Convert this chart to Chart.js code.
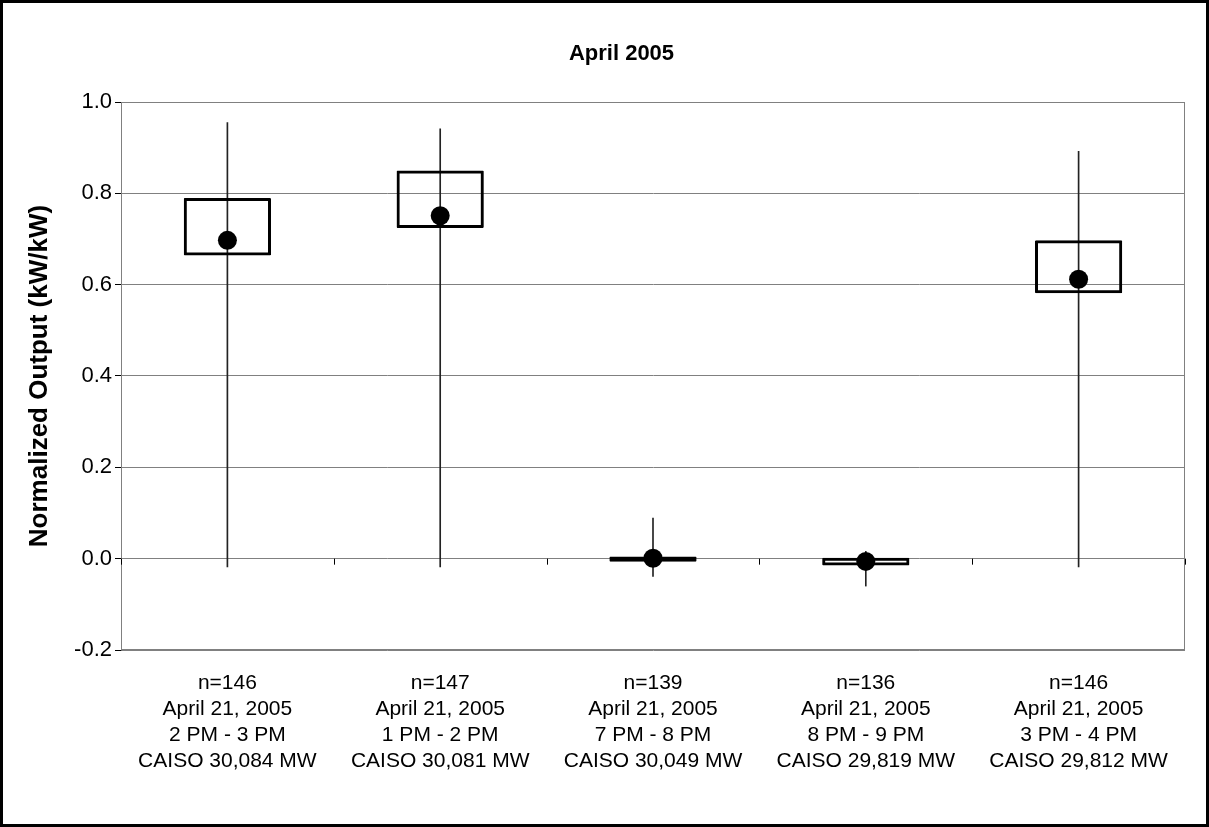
<!DOCTYPE html>
<html>
<head>
<meta charset="utf-8">
<title>April 2005</title>
<script src="https://cdn.jsdelivr.net/npm/chart.js@4.4.1/dist/chart.umd.min.js"></script>
<style>
  html, body { margin: 0; padding: 0; background: #fff; }
  canvas { display: block; }
</style>
</head>
<body>
<canvas id="chart" width="1209" height="827"></canvas>
<script>
// category text
const sampleSizes = [146, 147, 139, 136, 146];
const dates = ["April 21, 2005", "April 21, 2005", "April 21, 2005", "April 21, 2005", "April 21, 2005"];
const hours = ["2 PM - 3 PM", "1 PM - 2 PM", "7 PM - 8 PM", "8 PM - 9 PM", "3 PM - 4 PM"];
const caisoLoads = ["30,084", "30,081", "30,049", "29,819", "29,812"];

// values (kW/kW)
const whiskerLow = [-0.018, -0.018, -0.039, -0.060, -0.018];
const whiskerHigh = [0.955, 0.941, 0.089, 0.016, 0.892];
const boxLow = [0.664, 0.724, -0.007, -0.015, 0.581];
const boxHigh = [0.790, 0.850, 0.005, 0.002, 0.697];
const centers = [0.697, 0.751, 0.001, -0.006, 0.612];

const yTicks = [-0.2, 0.0, 0.2, 0.4, 0.6, 0.8, 1.0];

const labels = sampleSizes.map((n, i) => [
  "n=" + n,
  dates[i],
  hours[i],
  "CAISO " + caisoLoads[i] + " MW",
]);

const FONT = "Arial, 'Liberation Sans'";

// plot frame, ticks on the zero line, outer border
const framePlugin = {
  id: "frame",
  afterLayout(chart) {
    // title sits a bit right of the canvas centre in the original
    if (chart.titleBlock) {
      chart.titleBlock.left += 29;
      chart.titleBlock.right += 29;
    }
  },
  beforeDatasetsDraw(chart) {
    const { ctx, chartArea, scales } = chart;
    const x = scales.x;
    const y0 = scales.y.getPixelForValue(0);
    ctx.save();
    ctx.strokeStyle = "#808080";
    ctx.lineWidth = 1;
    ctx.strokeRect(chartArea.left + 0.5, chartArea.top + 0.5, chartArea.width - 1, chartArea.height - 1);
    ctx.strokeStyle = "#000";
    const step = x.width / labels.length;
    for (let i = 0; i <= labels.length; i++) {
      const px = Math.round(x.left + i * step) + 0.5;
      ctx.beginPath();
      ctx.moveTo(px, y0);
      ctx.lineTo(px, y0 + 6);
      ctx.stroke();
    }
    ctx.restore();
  },
  afterDraw(chart) {
    const { ctx, width, height } = chart;
    ctx.save();
    ctx.strokeStyle = "#000";
    ctx.lineWidth = 3;
    ctx.strokeRect(1.5, 1.5, width - 3, height - 3);
    ctx.restore();
  },
};

const ctx = document.getElementById("chart").getContext("2d");
new Chart(ctx, {
  type: "bar",
  data: {
    labels: labels,
    datasets: [
      {
        type: "line",
        label: "Center",
        data: centers,
        showLine: false,
        pointRadius: 9.5,
        pointHoverRadius: 9.5,
        pointBackgroundColor: "#000",
        pointBorderColor: "#000",
        pointBorderWidth: 0,
        order: 1,
      },
      {
        label: "Box",
        data: boxLow.map((v, i) => [v, boxHigh[i]]),
        backgroundColor: "rgba(255,255,255,0)",
        borderColor: "#000",
        borderWidth: 3,
        borderSkipped: false,
        borderRadius: 1,
        grouped: false,
        categoryPercentage: 1,
        barPercentage: 0.41,
        order: 2,
      },
      {
        label: "Range",
        data: whiskerLow.map((v, i) => [v, whiskerHigh[i]]),
        backgroundColor: "#222",
        borderWidth: 0,
        grouped: false,
        barThickness: 1,
        order: 3,
      },
    ],
  },
  options: {
    responsive: false,
    animation: false,
    layout: { padding: { left: 0, right: 24, top: 0, bottom: 0 } },
    plugins: {
      legend: { display: false },
      tooltip: { enabled: false },
      title: {
        display: true,
        text: "April 2005",
        color: "#000",
        font: { family: FONT, size: 22, weight: "bold" },
        padding: { top: 41, bottom: 34.6 },
      },
    },
    scales: {
      x: {
        grid: { display: false, drawTicks: false },
        border: { display: false },
        ticks: {
          color: "#000",
          padding: 20,
          maxRotation: 0,
          autoSkip: false,
          font: { family: FONT, size: 21, lineHeight: 26 / 21 },
        },
        afterFit: (scale) => { scale.height = 177; },
      },
      y: {
        min: -0.2,
        max: 1.0,
        afterBuildTicks: (scale) => { scale.ticks = yTicks.map((v) => ({ value: v })); },
        grid: { color: "#808080", lineWidth: 1, tickLength: 6, tickColor: "#000" },
        border: { display: true, color: "#666" },
        ticks: {
          color: "#000",
          padding: 3,
          font: { family: FONT, size: 22 },
          callback: (v) => Number(v).toFixed(1),
        },
        title: {
          display: true,
          text: "Normalized Output (kW/kW)",
          color: "#000",
          font: { family: FONT, size: 26, weight: "bold" },
          padding: { top: 24, bottom: 0 },
        },
        afterFit: (scale) => { scale.width = 121; },
      },
    },
  },
  plugins: [framePlugin],
});
</script>
</body>
</html>
